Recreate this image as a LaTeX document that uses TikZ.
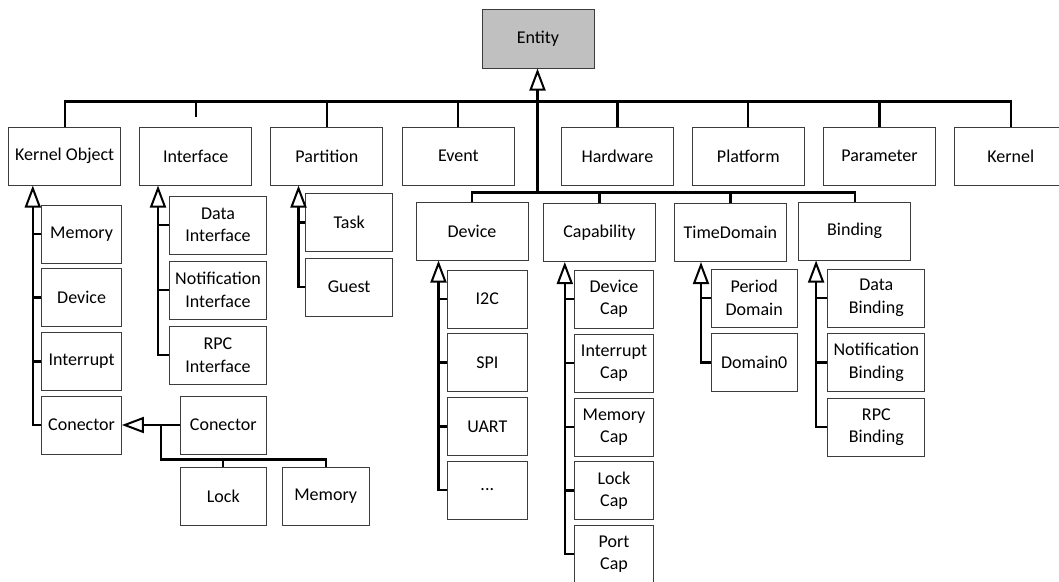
\documentclass[tikz,border=0pt]{standalone}
\usepackage{fontspec}
\setmainfont{Carlito}
\usetikzlibrary{arrows.meta}
\definecolor{entfill}{RGB}{192,192,192}
\definecolor{boxline}{RGB}{60,60,60}
\begin{document}
\begin{tikzpicture}[x=1pt,y=-1pt,
  box/.style={draw=boxline, line width=1pt, fill=white, inner sep=0pt,
    align=center, minimum height=58pt, font=\fontsize{18}{22.5}\selectfont},
  conn/.style={line width=2.2pt, black},
  inh/.style={conn, -{Triangle[open, length=22pt, width=16pt, line width=2pt]}}]
\useasboundingbox (0,0) rectangle (1059,581);
\clip (0,0) rectangle (1059,581);

% root
\node[box, fill=entfill, minimum width=112pt, minimum height=59pt] (ent) at (538,38.5) {Entity};

% first level
\node[box, minimum width=112pt] (ko)    at (64.6,156)  {Kernel Object};
\node[box, minimum width=112pt] (intf)  at (195.7,156) {Interface};
\node[box, minimum width=112pt] (part)  at (326.9,156) {Partition};
\node[box, minimum width=112pt] (evt)   at (458.3,156) {Event};
\node[box, minimum width=112pt] (hw)    at (617.4,156) {Hardware};
\node[box, minimum width=112pt] (plat)  at (748.3,156) {Platform};
\node[box, minimum width=112pt] (param) at (879.5,156) {Parameter};
\node[box, minimum width=112pt] (kern)  at (1010.8,156) {Kernel};

% second level
\node[box, minimum width=112pt] (dev)  at (472,231)     {Device};
\node[box, minimum width=112pt] (cap)  at (599.5,232.5) {Capability};
\node[box, minimum width=112pt] (td)   at (730.4,232.5) {TimeDomain};
\node[box, minimum width=112pt] (bind) at (854.6,231)   {Binding};

% kernel object children
\node[box, minimum width=79.5pt] (komem) at (81.6,234)   {Memory};
\node[box, minimum width=79.5pt] (kodev) at (81.6,297.5) {Device};
\node[box, minimum width=79.5pt] (koint) at (81.6,361.5) {Interrupt};
\node[box, minimum width=79.5pt] (kocon) at (81.6,425)   {Conector};

% conector children
\node[box, minimum width=86pt] (ccon)  at (223.3,425) {Conector};
\node[box, minimum width=86pt] (clock) at (223.3,496) {Lock};
\node[box, minimum width=87pt] (cmem)  at (325.7,496) {Memory};

% interface children
\node[box, minimum width=96.7pt] (idata) at (218,225) {Data\\Interface};
\node[box, minimum width=96.7pt] (inot)  at (218,290) {Notification\\Interface};
\node[box, minimum width=96.7pt] (irpc)  at (218,355) {RPC\\Interface};

% partition children
\node[box, minimum width=86.5pt] (ptask)  at (349.2,222.5) {Task};
\node[box, minimum width=86.5pt] (pguest) at (349.2,287)   {Guest};

% device children
\node[box, minimum width=80pt] (di2c)  at (487.3,299)   {I2C};
\node[box, minimum width=80pt] (dspi)  at (487.3,362.5) {SPI};
\node[box, minimum width=80pt] (duart) at (487.3,426.5) {UART};
\node[box, minimum width=80pt] (dmore) at (487.3,490)   {...};

% capability children
\node[box, minimum width=79.6pt] (cdev)  at (614,299)   {Device\\Cap};
\node[box, minimum width=79.6pt] (cint)  at (614,363)   {Interrupt\\Cap};
\node[box, minimum width=79.6pt] (cmcap) at (614,427)   {Memory\\Cap};
\node[box, minimum width=79.6pt] (clcap) at (614,490.5) {Lock\\Cap};
\node[box, minimum width=79.6pt] (cport) at (614,554)   {Port\\Cap};

% time domain children
\node[box, minimum width=86pt] (tper) at (754.2,298)   {Period\\Domain};
\node[box, minimum width=86pt] (tdom) at (754.2,362.5) {Domain0};

% binding children
\node[box, minimum width=96.8pt] (bdata) at (876.3,298)   {Data\\Binding};
\node[box, minimum width=96.8pt] (bnot)  at (876.3,362.5) {Notification\\Binding};
\node[box, minimum width=96.8pt] (brpc)  at (876.3,427)   {RPC\\Binding};

% trunk positions
\coordinate (hub)  at (537.5,193);
\coordinate (koT)  at (32.8,0);
\coordinate (inT)  at (158,0);
\coordinate (paT)  at (298.5,0);
\coordinate (deT)  at (438.5,0);
\coordinate (caT)  at (564.8,0);
\coordinate (tdT)  at (701,0);
\coordinate (biT)  at (816.1,0);
\coordinate (cj)   at (160.6,425);

% entity hierarchy
\draw[conn] (ko.north) -- ++(0,-25) -| (kern.north);
\draw[conn] ([yshift=10pt]intf.north) -- ([yshift=25pt]intf.north);
\foreach \n in {part,evt,hw,plat,param} \draw[conn] (\n.north) -- ++(0,-25);
\draw[conn] (dev.north) -- ++(0,-9) -| (bind.north);
\draw[conn] (cap.north) -- ++(0,-10.5);
\draw[conn] (td.north) -- ++(0,-10.5);
\draw[inh] (hub) -- (hub |- ent.south);

% kernel object
\draw[inh] (kocon.west) -| (koT |- ko.south);
\foreach \n in {komem,kodev,koint} \draw[conn] (\n.west) -- (\n.west -| koT);

% conector
\draw[inh] (ccon.west) -- (kocon.east);
\draw[conn] (cj) |- ([yshift=7pt]cmem.north) -- (cmem.north);
\draw[conn] (clock.north) -- ++(0,-7);

% interface
\draw[inh] (irpc.west) -| (inT |- intf.south);
\foreach \n in {idata,inot} \draw[conn] (\n.west) -- (\n.west -| inT);

% partition
\draw[inh] (pguest.west) -| (paT |- part.south);
\draw[conn] (ptask.west) -- (ptask.west -| paT);

% device
\draw[inh] (dmore.west) -| (deT |- dev.south);
\foreach \n in {di2c,dspi,duart} \draw[conn] (\n.west) -- (\n.west -| deT);

% capability
\draw[inh] (cport.west) -| (caT |- cap.south);
\foreach \n in {cdev,cint,cmcap,clcap} \draw[conn] (\n.west) -- (\n.west -| caT);

% time domain
\draw[inh] (tdom.west) -| (tdT |- td.south);
\draw[conn] (tper.west) -- (tper.west -| tdT);

% binding
\draw[inh] (brpc.west) -| (biT |- bind.south);
\foreach \n in {bdata,bnot} \draw[conn] (\n.west) -- (\n.west -| biT);
\end{tikzpicture}
\end{document}
